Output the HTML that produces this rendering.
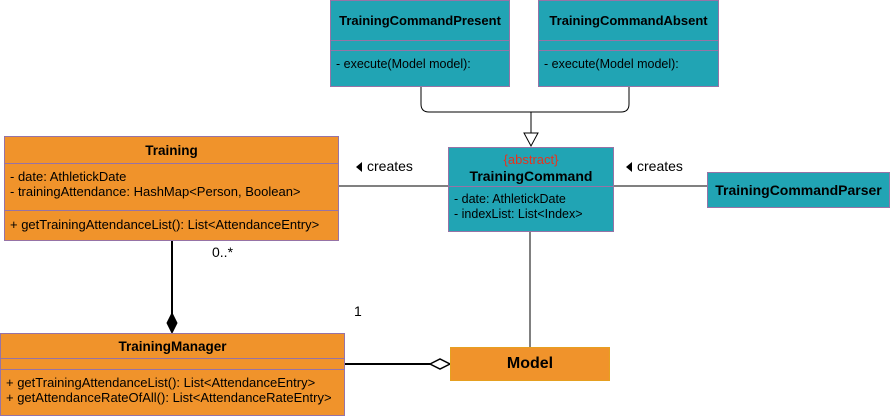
<!DOCTYPE html>
<html><head><style>
body{margin:0;width:890px;height:418px;background:#fff;position:relative;font-family:"Liberation Sans",sans-serif;overflow:hidden}
.b{position:absolute;box-sizing:border-box;border:1px solid #9673a6}
.t{background:#21a4b4}.o{background:#f0932b}
.h{font-weight:bold;font-size:14px;text-align:center;color:#000;white-space:nowrap}
.d{position:absolute;left:0;right:0;border-top:1px solid #9673a6}
.tx{position:absolute;font-size:13px;color:#000;white-space:nowrap;line-height:15px}
.lb{position:absolute;font-size:14px;color:#000;white-space:nowrap}
</style></head><body>
<svg width="890" height="418" style="position:absolute;left:0;top:0">
<g stroke="#000" fill="none" stroke-width="1">
<path d="M421 86 V104 Q421 112 429 112 H621 Q629 112 629 104 V86"/>
<line x1="531" y1="112" x2="531" y2="133"/>
<polygon points="524,133 538,133 531,146" fill="#fff"/>
<line x1="338" y1="186" x2="448" y2="186"/>
<line x1="614" y1="186" x2="707" y2="186"/>
<line x1="530" y1="231" x2="530" y2="347"/>
<line x1="172" y1="240" x2="172" y2="315" stroke-width="2"/>
<polygon points="172,313 177,323 172,333 167,323" fill="#000"/>
<line x1="343" y1="364" x2="430" y2="364" stroke-width="2"/>
<polygon points="430,364 440,359 450,364 440,369" fill="#fff" stroke-width="1.5"/>
</g>
<polygon points="362,162 362,172 356,167" fill="#000"/>
<polygon points="632,162 632,172 626,167" fill="#000"/>
</svg>

<div class="b t" style="left:330px;top:0;width:180px;height:87px">
<div class="h" style="position:absolute;top:12px;width:100%;font-size:13px">TrainingCommandPresent</div>
<div class="d" style="top:39px"></div><div class="d" style="top:49px"></div>
<div class="tx" style="left:5px;top:56px;font-size:12.5px">- execute(Model model):</div></div>
<div class="b t" style="left:538px;top:0;width:181px;height:87px">
<div class="h" style="position:absolute;top:12px;width:100%;font-size:13px">TrainingCommandAbsent</div>
<div class="d" style="top:39px"></div><div class="d" style="top:49px"></div>
<div class="tx" style="left:5px;top:56px;font-size:12.5px">- execute(Model model):</div></div>

<div class="b t" style="left:448px;top:147px;width:166px;height:85px">
<div style="position:absolute;top:4px;width:100%;text-align:center;color:#e8321e;font-size:13px">{abstract}</div>
<div class="h" style="position:absolute;top:20px;width:100%">TrainingCommand</div>
<div class="d" style="top:38px"></div>
<div class="tx" style="left:5px;top:44px;font-size:12.5px">- date: AthletickDate<br>- indexList: List&lt;Index&gt;</div></div>

<div class="b t" style="left:707px;top:172px;width:183px;height:36px">
<div class="h" style="position:absolute;top:9px;width:100%">TrainingCommandParser</div></div>

<div class="lb" style="left:367px;top:158px">creates</div>
<div class="lb" style="left:637px;top:158px">creates</div>

<div class="b o" style="left:4px;top:136px;width:335px;height:105px">
<div class="h" style="position:absolute;top:6px;width:100%;font-size:13.5px">Training</div>
<div class="d" style="top:26px"></div>
<div class="tx" style="left:5px;top:32px">- date: AthletickDate<br>- trainingAttendance: HashMap&lt;Person, Boolean&gt;</div>
<div class="d" style="top:73px"></div>
<div class="tx" style="left:5px;top:80px">+ getTrainingAttendanceList(): List&lt;AttendanceEntry&gt;</div></div>

<div class="lb" style="left:212px;top:244px">0..*</div>
<div class="lb" style="left:354px;top:303px">1</div>

<div class="b o" style="left:0;top:333px;width:345px;height:83px">
<div class="h" style="position:absolute;top:5px;width:100%;font-size:13.5px">TrainingManager</div>
<div class="d" style="top:24px"></div><div class="d" style="top:35px"></div>
<div class="tx" style="left:5px;top:41px">+ getTrainingAttendanceList(): List&lt;AttendanceEntry&gt;<br>+ getAttendanceRateOfAll(): List&lt;AttendanceRateEntry&gt;</div></div>

<div class="b o" style="left:450px;top:347px;width:160px;height:34px;border-color:#e6a020">
<div class="h" style="position:absolute;top:7px;width:100%;font-size:16px">Model</div></div>
</body></html>
